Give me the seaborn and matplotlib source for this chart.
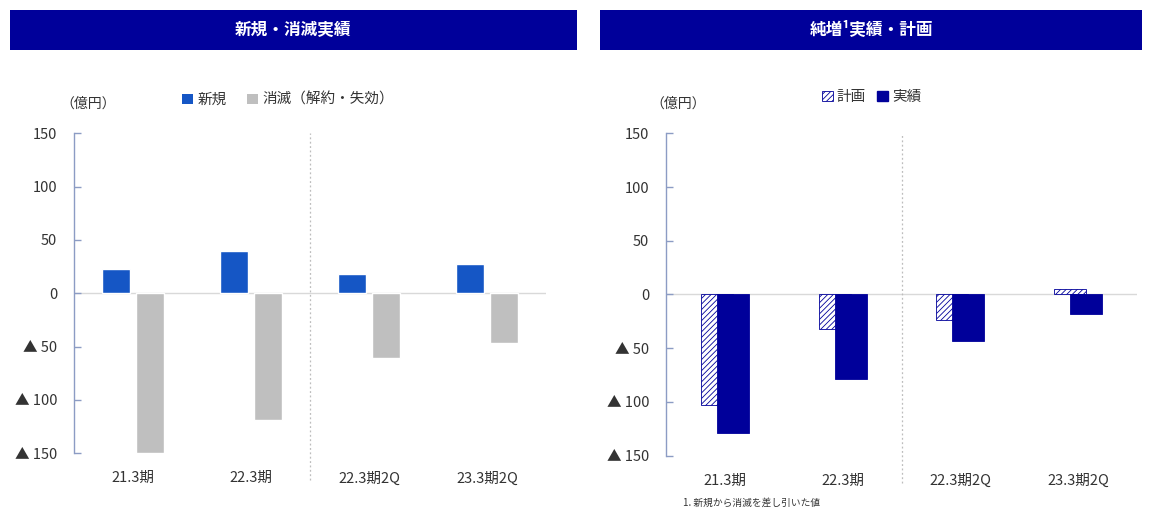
import matplotlib
matplotlib.use("Agg")
import matplotlib.pyplot as plt
from matplotlib.patches import Rectangle, Patch
from matplotlib.ticker import FuncFormatter
import pandas as pd
import seaborn as sns

# ---- data (億円) ----
periods = ["21.3期", "22.3期", "22.3期2Q", "23.3期2Q"]
new_contracts = [23, 40, 18, 27]            # 新規
lapses = [-150, -119, -61, -47]             # 消滅（解約・失効）
net_plan = [-103, -32, -24, 5]              # 純増 計画
net_actual = [-129, -79, -43, -18]          # 純増 実績

left_title = "新規・消滅実績"
right_title = "純増¹実績・計画"
unit_label = "（億円）"
footnote = "1. 新規から消滅を差し引いた値"

sns.set_theme(style="white")
plt.rcParams["font.family"] = ["Noto Sans CJK JP", "DejaVu Sans"]
plt.rcParams["hatch.linewidth"] = 0.6

NAVY = "#00009A"
BLUE = "#1556C5"
GRAY = "#BFBFBF"
TEXT = "#333333"
SPINE = "#8C9CC4"
HATCH = "//////"

fig = plt.figure(figsize=(11.52, 5.11), dpi=100)
W, H = 1152, 511


def fx(px):
    return px / W


def fy(py):
    return 1 - py / H


ax_l = fig.add_axes([fx(74), fy(453.3), fx(472), 320 / H])
ax_r = fig.add_axes([fx(666), fy(455.7), fx(471), 322.4 / H])

# ---- left: new vs lapsed ----
df_left = pd.DataFrame({
    "period": periods * 2,
    "series": ["新規"] * 4 + ["消滅（解約・失効）"] * 4,
    "value": new_contracts + lapses,
})
sns.barplot(data=df_left, x="period", y="value", hue="series", order=periods,
            hue_order=["新規", "消滅（解約・失効）"], palette=[BLUE, GRAY],
            width=0.576, gap=0.205, dodge=True, legend=False,
            saturation=1, ax=ax_l, errorbar=None)

# ---- right: net increase plan vs actual (overlapping bars) ----
df_right = pd.DataFrame({
    "period": periods * 2,
    "series": ["計画"] * 4 + ["実績"] * 4,
    "value": net_plan + net_actual,
})
sns.barplot(data=df_right, x="period", y="value", hue="series", order=periods,
            hue_order=["計画", "実績"], palette=["white", NAVY],
            width=0.27, dodge=True, legend=False, saturation=1,
            ax=ax_r, errorbar=None)

bar_w = 0.271
for i, p in enumerate(ax_r.patches):
    c = p.get_x() + p.get_width() / 2
    p.set_width(bar_w)
    p.set_x(c - bar_w / 2)
    p.set_edgecolor(NAVY)
    p.set_linewidth(0.6)
    if i < len(periods):
        p.set_facecolor("white")
        p.set_hatch(HATCH)


def tri_fmt(v, _):
    v = int(round(v))
    return f"▲ {abs(v)}" if v < 0 else f"{v}"


for ax in (ax_l, ax_r):
    ax.set_ylim(-150, 150)
    ax.set_xlim(-0.5, 3.5)
    ax.set_yticks(range(-150, 151, 50))
    ax.yaxis.set_major_formatter(FuncFormatter(tri_fmt))
    ax.set_xlabel("")
    ax.set_ylabel("")
    for s in ("top", "right", "bottom"):
        ax.spines[s].set_visible(False)
    ax.spines["left"].set_color(SPINE)
    ax.spines["left"].set_linewidth(1.0)
    ax.tick_params(axis="y", direction="in", length=5, width=1, color=SPINE,
                   left=True, pad=12, labelsize=10.5, labelcolor=TEXT)
    ax.tick_params(axis="x", length=0, pad=13, labelsize=10.5, labelcolor=TEXT)
    ax.axhline(0, color="#D9D9D9", lw=1, zorder=0)
    ax.vlines(1.5, -175, 150, colors="#BDBDBD", linestyles=(0, (1.5, 2)),
              lw=0.9, clip_on=False)
    ax.set_facecolor("none")

# ---- header bands ----
for x0, x1, title in [(10, 577, left_title), (600, 1142, right_title)]:
    fig.patches.append(Rectangle((fx(x0), fy(50)), fx(x1 - x0), 40 / H,
                                 transform=fig.transFigure, facecolor=NAVY,
                                 edgecolor="none"))
    fig.text(fx((x0 + x1) / 2), fy(30), title, color="white", fontsize=12,
             fontweight="bold", ha="center", va="center")

# ---- unit labels ----
fig.text(fx(88), fy(104), unit_label, fontsize=10, color=TEXT,
         ha="center", va="center")
fig.text(fx(678), fy(104), unit_label, fontsize=10, color=TEXT,
         ha="center", va="center")

# ---- legends ----
h_left = [Patch(facecolor=BLUE, edgecolor="none", label="新規"),
          Patch(facecolor=GRAY, edgecolor="none", label="消滅（解約・失効）")]
fig.legend(handles=h_left, loc="center left", bbox_to_anchor=(fx(176), fy(100)),
           ncol=2, frameon=False, handlelength=0.75, handleheight=0.75,
           handletextpad=0.3, columnspacing=1.4, fontsize=10.5,
           labelcolor=TEXT, borderaxespad=0)

h_right = [Patch(facecolor="white", edgecolor=NAVY, hatch=HATCH, lw=0.6,
                 label="計画"),
           Patch(facecolor=NAVY, edgecolor=NAVY, label="実績")]
fig.legend(handles=h_right, loc="center left", bbox_to_anchor=(fx(816), fy(97)),
           ncol=2, frameon=False, handlelength=0.75, handleheight=0.75,
           handletextpad=0.25, columnspacing=0.8, fontsize=10.5,
           labelcolor=TEXT, borderaxespad=0)

# ---- footnote ----
fig.text(fx(683), fy(503), footnote, fontsize=7, color=TEXT,
         ha="left", va="center")

fig.savefig("out.png", dpi=100, facecolor="white")
